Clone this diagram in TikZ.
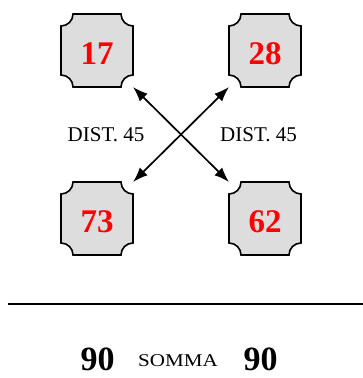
\documentclass[tikz,border=0pt]{standalone}
\usepackage{fontspec}
\setmainfont{Liberation Serif}
\usetikzlibrary{arrows.meta}

\definecolor{plaquegray}{RGB}{221,221,221}

% notched box: name, centre, number
\newcommand{\plaque}[3]{%
\draw[line width=1.6pt, fill=plaquegray, shift={(#2)}]
  (-24,36.5) -- (24,36.5) arc[start angle=180, end angle=270, radius=12pt]
  -- (36,-24.5) arc[start angle=90, end angle=180, radius=12pt]
  -- (-24,-36.5) arc[start angle=0, end angle=90, radius=12pt]
  -- (-36,24.5) arc[start angle=270, end angle=360, radius=12pt] -- cycle;
\node[numnode] (#1) at (#2) {#3};
}

\begin{document}
\begin{tikzpicture}[x=1pt, y=1pt,
  numnode/.style={minimum width=72pt, minimum height=73pt, inner sep=0pt, text=red,
    font=\fontsize{33}{33}\selectfont\bfseries, text depth=0pt, yshift=-3pt},
  dist/.style={font=\fontsize{21}{21}\selectfont, anchor=base},
  sumnode/.style={anchor=base, inner sep=0pt, text depth=0pt, font=\fontsize{34}{34}\selectfont\bfseries},
  twoway/.style={{Latex[length=15pt,width=11pt]}-{Latex[length=15pt,width=11pt]}, line width=1.7pt}]

\useasboundingbox (0,0) rectangle (363,378);

\plaque{a}{97,327.5}{17}
\plaque{b}{265,327.5}{28}
\plaque{c}{97,159.5}{73}
\plaque{d}{265,159.5}{62}

\coordinate (aSE) at (133,291);
\coordinate (bSW) at (229,291);
\coordinate (cNE) at (133,196);
\coordinate (dNW) at (229,196);

\draw[twoway] (aSE) -- (dNW);
\draw[twoway] (bSW) -- (cNE);

\node[dist] (leftdist) at (106,236) {DIST. 45};
\node[dist] (rightdist) at (258.5,236) {DIST. 45};

\draw[line width=2.4pt] (8,74) -- (363,74);

\node[sumnode] (leftsum) at (97.5,8) {90};
\node[anchor=base, font=\fontsize{18}{18}\selectfont, xscale=1.17] (somma) at (178,12) {SOMMA};
\node[sumnode] (rightsum) at (260.5,8) {90};

\end{tikzpicture}
\end{document}
